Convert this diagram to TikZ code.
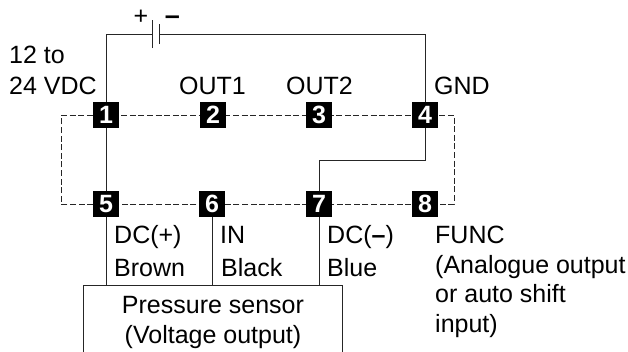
\documentclass[tikz,border=0pt]{standalone}
\usepackage{fontspec}
\setmainfont{Liberation Sans}
\begin{document}
\begin{tikzpicture}[x=1pt,y=-1pt,
  wire/.style={draw=black!85,line width=0.95pt},
  dash wire/.style={draw=black!85,line width=0.85pt,dash pattern=on 6pt off 2.6pt},
  pin/.style={fill=black,text=white,minimum width=26pt,minimum height=26pt,inner sep=0pt,font=\bfseries\fontsize{25pt}{25pt}\selectfont},
  lbl/.style={inner sep=0pt,anchor=base west,font=\fontsize{25pt}{25pt}\selectfont}]
\useasboundingbox (0,0) rectangle (628,351);
% dashed enclosure
\coordinate (tl) at (61,115); \coordinate (tr) at (454,115);
\coordinate (bl) at (61,204); \coordinate (br) at (454,204);
\draw[dash wire] (tl) -- (tr) -- (br) -- (bl) -- cycle;
% battery
\coordinate (plateA) at (152.5,34); \coordinate (plateB) at (159.5,34);
\coordinate (corL) at (106,34); \coordinate (corR) at (425,34);
\coordinate (jogR) at (425,160); \coordinate (jogL) at (319,160);
% sensor
\path[draw=black!85,line width=0.95pt] (83,360) -- (83,285) coordinate (sTL) -- (342,285) coordinate (sTR) -- (342,360);
\coordinate (s5) at (106,285); \coordinate (s6) at (212,285); \coordinate (s7) at (319,285);
% pins
\node[pin] (p1) at (106,115) {1};
\node[pin] (p2) at (213,115) {2};
\node[pin] (p3) at (319,115) {3};
\node[pin] (p4) at (425,115) {4};
\node[pin] (p5) at (106,204) {5};
\node[pin] (p6) at (212,204) {6};
\node[pin] (p7) at (319,204) {7};
\node[pin] (p8) at (425,204) {8};
% wires
\draw[wire] (p1.north) -- (corL) -- (plateA);
\draw[wire] (plateB) -- (corR) -- (p4.north);
\draw[wire] ([yshift=-14pt]plateA) -- ([yshift=14pt]plateA);
\draw[wire,line width=1.3pt] ([yshift=-10pt]plateB) -- ([yshift=10pt]plateB);
\draw[wire] (p1.south) -- (p5.north);
\draw[wire] (p4.south) -- (jogR) -- (jogL) -- (p7.north);
\draw[wire] (p5.south) -- (s5);
\draw[wire] (p6.south) -- (s6);
\draw[wire] (p7.south) -- (s7);
% labels
\node[inner sep=0pt,font=\fontsize{25pt}{25pt}\selectfont] (plus) at (141,17) {+};
\node[inner sep=0pt,font=\bfseries\fontsize{27pt}{27pt}\selectfont] (minus) at (172.5,20) {–};
\node[lbl] (l1) at (9,63) {12 to};
\node[lbl] (l2) at (9,94) {24 VDC};
\node[lbl] (out1) at (179,94) {OUT1};
\node[lbl] (out2) at (286,94) {OUT2};
\node[lbl] (gnd) at (434,94) {GND};
\node[lbl] (dcp) at (114,243) {DC(+)};
\node[lbl] (brown) at (114,276) {Brown};
\node[lbl] (in) at (220,243) {IN};
\node[lbl] (black) at (221,276) {Black};
\node[lbl] (dcm) at (327,243) {DC(\textbf{–})};
\node[lbl] (blue) at (327,276) {Blue};
\node[lbl] (func) at (435,243) {FUNC};
\node[lbl] (f2) at (435,273) {(Analogue output};
\node[lbl] (f3) at (435,302) {or auto shift};
\node[lbl] (f4) at (435,332) {input)};
\node[lbl,anchor=base] (ps) at (213,313) {Pressure sensor};
\node[lbl,anchor=base] (vo) at (213,343) {(Voltage output)};
\end{tikzpicture}
\end{document}
